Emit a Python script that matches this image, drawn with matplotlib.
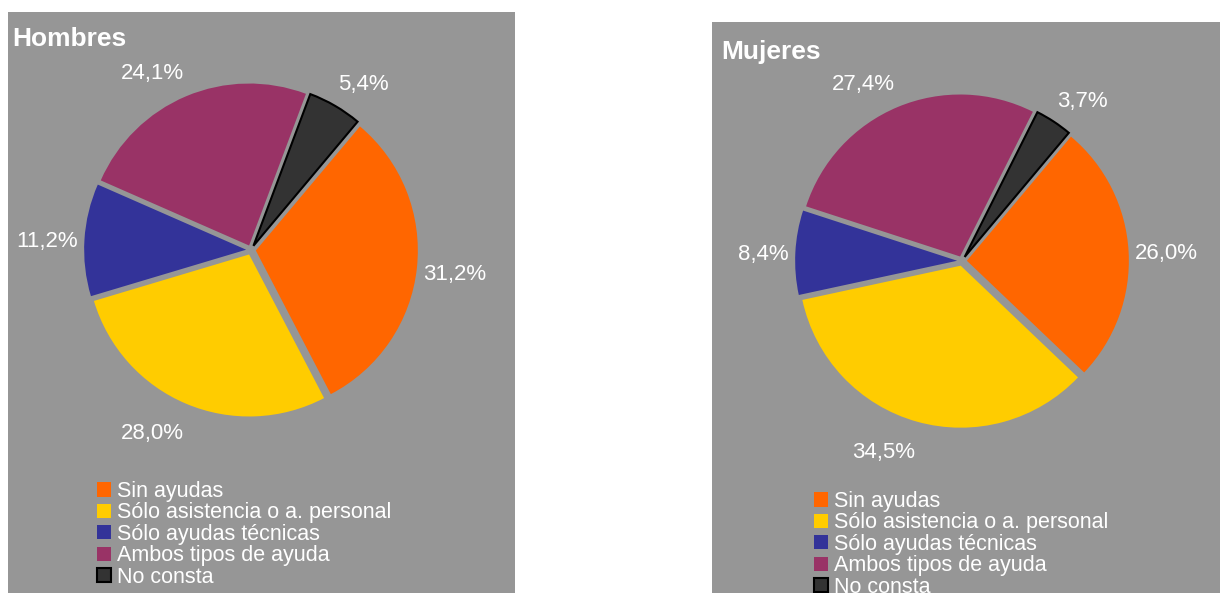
import numpy as np
import matplotlib
matplotlib.use("Agg")
import matplotlib.pyplot as plt
from matplotlib.patches import Rectangle

plt.rcParams['font.family'] = ['Liberation Sans', 'DejaVu Sans']

categories = ["Sin ayudas", "Sólo asistencia o a. personal", "Sólo ayudas técnicas",
              "Ambos tipos de ayuda", "No consta"]
hombres = [31.2, 28.0, 11.2, 24.1, 5.4]
mujeres = [26.0, 34.5, 8.4, 27.4, 3.7]
panel_titles = ["Hombres", "Mujeres"]
colors = ["#FF6600", "#FFCC00", "#333399", "#993366", "#333333"]

W, H = 1220, 593
BG = "#969696"

fig = plt.figure(figsize=(W / 100, H / 100), dpi=100)

def fx(px):
    return px / W

def fy(py):
    return 1 - py / H

# panel geometry (pixels)
panels = [
    dict(x0=8, x1=515, y0=12, cx=251, cy=250, title_x=12, title_y=46,
         leg_x=97, leg_y=481, values=hombres, title=panel_titles[0]),
    dict(x0=712, x1=1220, y0=22, cx=962, cy=261, title_x=721, title_y=59,
         leg_x=814, leg_y=491, values=mujeres, title=panel_titles[1]),
]

R = 162  # pie radius in px
half = 1.5
pending = []

for p in panels:
    fig.patches.append(Rectangle((fx(p['x0']), 0), fx(p['x1'] - p['x0']), (H - p['y0']) / H,
                                 transform=fig.transFigure, facecolor=BG, edgecolor='none', zorder=-5))
    size = 2 * half * R
    ax = fig.add_axes([fx(p['cx'] - size / 2), fy(p['cy'] + size / 2), size / W, size / H])
    ax.set_axis_off()
    ax.patch.set_alpha(0)
    wedges, _ = ax.pie(p['values'], colors=colors, startangle=50, counterclock=False,
                       explode=[0.03] * len(p['values']), radius=1,
                       wedgeprops=dict(linewidth=0))
    wedges[-1].set_edgecolor('black')
    wedges[-1].set_linewidth(1.5)
    ax.set_xlim(-half, half)
    ax.set_ylim(-half, half)
    ax.set_aspect('equal')
    for w, v in zip(wedges, p['values']):
        th = np.deg2rad((w.theta1 + w.theta2) / 2)
        u = np.array([np.cos(th), np.sin(th)])
        cx, cy = w.center
        anchor = np.array([cx + 1.04 * u[0], cy + 1.175 * u[1]])
        t = ax.text(anchor[0], anchor[1], f"{v:.1f}".replace('.', ',') + '%',
                    ha='center', va='center', color='white', fontsize=16)
        pending.append((ax, t, anchor, u))

    fig.text(fx(p['title_x']), fy(p['title_y']), p['title'], fontsize=19, fontweight='bold',
             color='white', va='baseline', ha='left')

    fig.legend(wedges, categories, loc='upper left',
               bbox_to_anchor=(fx(p['leg_x']), fy(p['leg_y'])),
               bbox_transform=fig.transFigure, frameon=False, fontsize=15.5,
               labelcolor='white', handlelength=0.65, handleheight=0.65,
               handletextpad=0.3, labelspacing=0.02, borderpad=0, borderaxespad=0)

# shift labels sideways so that the label box sits beyond the rim
renderer = fig.canvas.get_renderer()
for ax, t, anchor, u in pending:
    bb = t.get_window_extent(renderer)
    ppu = ax.transData.transform((1, 0))[0] - ax.transData.transform((0, 0))[0]
    wd = bb.width / ppu
    ox = np.clip(4 * u[0], -1, 1) * wd / 2
    oy = -3.5 / ppu
    t.set_position((anchor[0] + ox, anchor[1] + oy))

fig.savefig("out.png", dpi=100, facecolor='white')
